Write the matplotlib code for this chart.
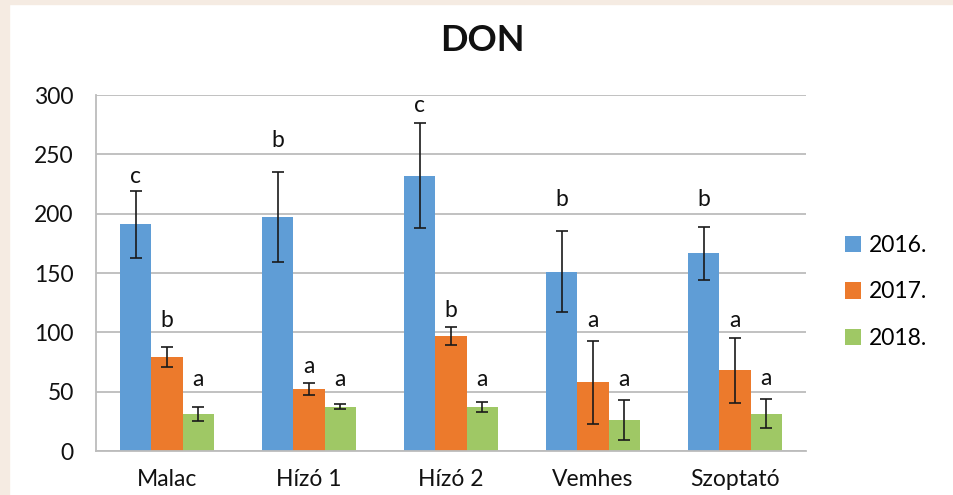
import numpy as np
import matplotlib.pyplot as plt
from matplotlib.patches import Rectangle

plt.rcParams['font.family'] = ['Lato', 'DejaVu Sans']

groups = ['Malac', 'Hízó 1', 'Hízó 2', 'Vemhes', 'Szoptató']
years = ['2016.', '2017.', '2018.']

don_2016 = [191, 197, 232, 151, 166.5]
don_2017 = [79, 52, 97, 58, 68]
don_2018 = [31, 37.5, 37, 26, 31.5]

err_2016 = [28, 38, 44, 34, 22]
err_2017 = [8.5, 5, 7.5, 35, 27.5]
err_2018 = [5.7, 2, 4, 17, 12.5]

letters_2016 = ['c', 'b', 'c', 'b', 'b']
letters_2017 = ['b', 'a', 'b', 'a', 'a']
letters_2018 = ['a', 'a', 'a', 'a', 'a']

# heights where the significance letters sit
letter_y_2016 = [231.5, 262, 291.5, 212, 212]
letter_y_2017 = [110, 71.5, 118, 110, 110]
letter_y_2018 = [60.5, 60, 60, 60.5, 61]

colors = ['#5f9dd6', '#ec7a2c', '#9fc865']

fig = plt.figure(figsize=(9.54, 4.95), dpi=100)
fig.patch.set_facecolor('white')
beige = '#f5ebe2'
fig.patches.append(Rectangle((0, 0), 9 / 954, 1, transform=fig.transFigure, color=beige, zorder=0))
fig.patches.append(Rectangle((0, 1 - 4 / 495), 1, 4 / 495, transform=fig.transFigure, color=beige, zorder=0))

ax = fig.add_axes([96 / 954, 44 / 495, 710 / 954, 356 / 495])

x = np.arange(len(groups))
w = 0.22
series = [(don_2016, err_2016, letters_2016, letter_y_2016),
          (don_2017, err_2017, letters_2017, letter_y_2017),
          (don_2018, err_2018, letters_2018, letter_y_2018)]

for i, (vals, errs, lets, ly) in enumerate(series):
    pos = x + (i - 1) * w
    ax.bar(pos, vals, width=w, color=colors[i], label=years[i], zorder=2)
    ax.errorbar(pos, vals, yerr=errs, fmt='none', ecolor='#1a1a1a',
                elinewidth=1.2, capsize=4.5, capthick=1.2, zorder=3)
    for p, l, yy in zip(pos, lets, ly):
        ax.text(p, yy, l, ha='center', va='center', fontsize=16.5, color='#111111')

ax.set_xlim(-0.5, len(groups) - 0.5)
ax.set_ylim(0, 300)
ax.set_yticks(range(0, 301, 50))
ax.set_xticks(x)
ax.set_xticklabels(groups)
ax.yaxis.grid(True, color='#bcbcbc', linewidth=1.3, zorder=0)
ax.set_axisbelow(True)
for s in ['top', 'right']:
    ax.spines[s].set_visible(False)
ax.spines['left'].set_color('#bcbcbc')
ax.spines['left'].set_linewidth(1.3)
ax.spines['bottom'].set_color('#bcbcbc')
ax.spines['bottom'].set_linewidth(1.3)
ax.tick_params(axis='both', length=0, labelsize=16.5, colors='#111111')
ax.tick_params(axis='y', pad=16)
ax.tick_params(axis='x', pad=13)

fig.text(0.506, 0.918, 'DON', ha='center', va='center', fontsize=26, fontweight='bold', color='#111111')

handles, labels = ax.get_legend_handles_labels()
fig.legend(handles, labels, loc='center left', bbox_to_anchor=(824 / 954, 1 - 292 / 495),
           frameon=False, fontsize=16.5, handlelength=0.7, handleheight=0.7,
           handletextpad=0.35, labelspacing=1.12)

fig.savefig('out.png', dpi=100)
